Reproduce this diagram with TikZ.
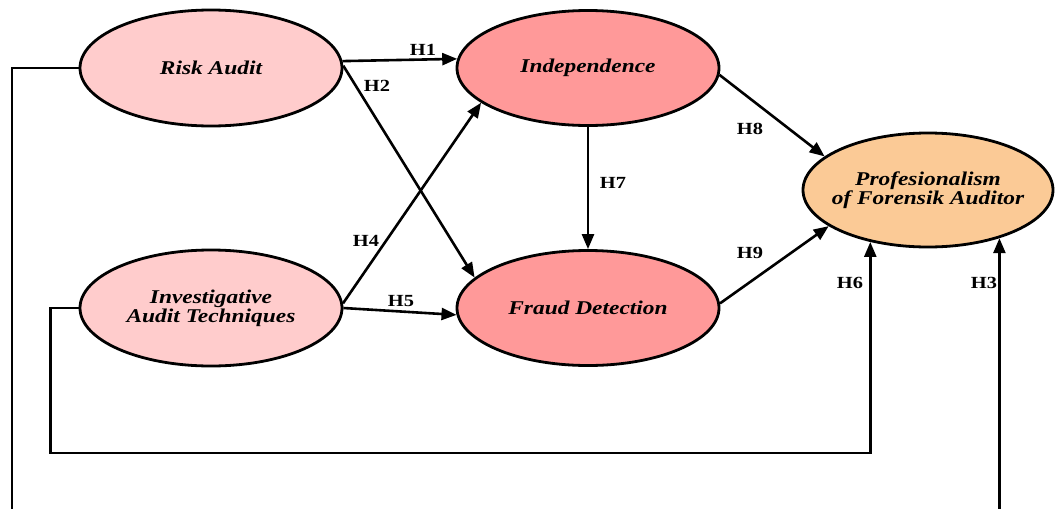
\documentclass[tikz,border=0pt]{standalone}
\usepackage{fontspec}
\setmainfont[FakeStretch=1.2]{Liberation Serif}
\usetikzlibrary{arrows.meta,shapes.geometric}
\definecolor{lightpink}{HTML}{FFCCCC}
\definecolor{rosepink}{HTML}{FF9999}
\definecolor{peach}{HTML}{FBCA96}
\begin{document}
\begin{tikzpicture}[x=1pt,y=-1pt,
  construct/.style={ellipse, draw=black, line width=2.8pt, inner sep=0pt},
  ctext/.style={font=\fontsize{19.5}{19}\selectfont\bfseries\itshape, align=center, text=black},
  hyp/.style={font=\fontsize{17}{18}\selectfont\bfseries, inner sep=0pt},
  link/.style={line width=2.6pt, line join=miter, -{Triangle[length=15pt,width=12pt]}},
  plainlink/.style={line width=2.6pt, line join=miter}
]
\useasboundingbox (0,0) rectangle (1061,509);
\fill[white] (0,0) rectangle (1061,509);

% constructs
\node[construct, fill=lightpink, minimum width=262pt, minimum height=116pt,
  label={[ctext]center:Risk Audit}] (ra) at (211,68) {};
\node[construct, fill=lightpink, minimum width=262pt, minimum height=116pt,
  label={[ctext]center:Investigative\\Audit Techniques}] (iat) at (211,308) {};
\node[construct, fill=rosepink, minimum width=262pt, minimum height=115pt,
  label={[ctext]center:Independence}] (ind) at (588,68) {};
\node[construct, fill=rosepink, minimum width=262pt, minimum height=115pt,
  label={[ctext]center:Fraud Detection}] (fd) at (588,308) {};
\node[construct, fill=peach, minimum width=250pt, minimum height=114pt,
  label={[ctext]center:Profesionalism\\of Forensik Auditor}] (pf) at (928,190) {};

% free ends at the bottom edge
\coordinate (raend) at (12,512);
\coordinate (bottom) at (0,512);

% connectors
\draw[link] (ra.3) -- (ind.176);
\draw[link] (ra.1) -- (fd.165);
\draw[link] (iat.2) -- (ind.198);
\draw[link] (iat.east) -- (fd.183);
\draw[link] (ind.south) -- (fd.north);
\draw[link] (ind.-3) -- (pf.162);
\draw[link] (fd.2) -- (pf.200);
\draw[link] (iat.west) -| ++(-28,145) -| (pf.222);
\draw[plainlink] (ra.west) -| (raend);
\draw[link] (pf.-34.5 |- bottom) -- (pf.-34.5);

% hypothesis labels
\node[hyp] (h1) at (423,50) {H1};
\node[hyp] (h2) at (377,86) {H2};
\node[hyp] (h3) at (984,283) {H3};
\node[hyp] (h4) at (366,241) {H4};
\node[hyp] (h5) at (401,301) {H5};
\node[hyp] (h6) at (850,283) {H6};
\node[hyp] (h7) at (613,183) {H7};
\node[hyp] (h8) at (750,129) {H8};
\node[hyp] (h9) at (750,253) {H9};
\end{tikzpicture}
\end{document}
